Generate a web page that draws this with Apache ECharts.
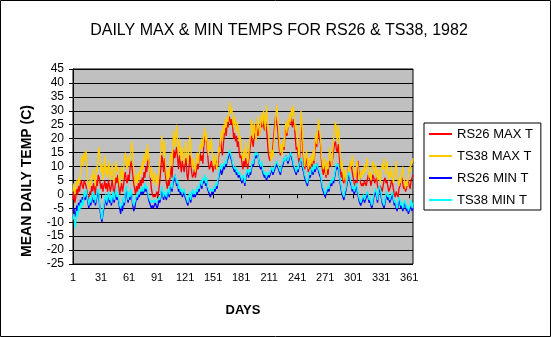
<!DOCTYPE html>
<html><head><meta charset="utf-8">
<script src="https://cdn.jsdelivr.net/npm/echarts@6/dist/echarts.min.js"></script>
<style>html,body{margin:0;padding:0;background:#fff}#c{width:551px;height:337px}</style>
</head><body><div id="c"></div>
<script>
const days = Array.from({length:365},(_,i)=>String(i+1));
const seriesNames = ['RS26 MAX T','TS38 MAX T','RS26 MIN T','TS38 MIN T'];
const rs26Max = [
-2,1,-3,-1,2,0,3,1,4,5, 3,2,5,4,3,1,-1,-2,1,0, 3,1,4,2,0,5,3,7,6,4, 2,4,1,3,5,2,4,1,5,3,
1,3,5,2,0,3,6,4,7,3, 0,2,4,1,3,6,8,5,4,7, 5,9,12,10,7,4,2,0,3,1, 4,2,5,3,6,4,8,6,10,8,
12,13,9,5,2,0,-1,0,-1,0, 1,-1,2,5,9,14,12,8,13,7, 4,2,5,3,7,10,6,12,16,13, 15,17,13,9,14,11,8,12,10,8,
11,13,7,5,9,14,12,8,6,7, 9,6,8,11,9,13,15,12,14,11, 17,21,19,20,15,11,9,10,12,10, 8,10,11,9,12,10,14,17,20,16,
14,18,22,24,21,26,24,28,27,25, 27,24,20,22,19,21,17,19,15,13, 14,11,9,12,10,13,11,9,12,15, 18,21,19,17,22,20,25,23,21,24,
22,26,24,27,25,23,26,24,20,15, 13,12,15,14,17,21,25,28,26,24, 20,16,14,17,15,18,16,22,25,21, 24,27,25,28,26,24,27,25,20,16,
17,14,11,15,26,22,17,12,9,11, 13,10,8,11,9,12,10,13,11,16, 19,17,21,23,20,18,12,9,7,10, 8,6,9,7,11,12,10,11,13,16,
18,19,16,15,18,14,10,6,8,5, 4,7,5,3,6,10,9,11,10,8, 6,4,3,5,4,12,8,6,4,3, 4,3,5,4,3,5,7,6,5,3,
5,7,6,4,5,6,3,2,1,3, 2,1,3,5,6,4,5,3,1,2, 3,5,4,2,0,-1,1,0,-1,2, 3,5,6,4,2,3,1,2,4,5, 3,2,5,6,7];
const ts38Max = [
1,4,0,2,5,3,6,4,8,12, 14,10,15,12,16,9,4,2,5,3, 7,5,9,6,3,10,8,15,17,12, 8,11,5,9,14,7,10,6,12,9,
5,8,11,7,4,9,12,8,10,6, 3,7,10,5,8,13,15,11,9,14, 10,12,16,19,15,9,6,3,7,4, 8,5,10,7,12,9,14,11,16,12,
18,13,9,6,10,7,4,8,5,3, 7,4,9,12,16,21,18,14,19,11, 7,5,9,6,12,15,10,19,23,17, 21,25,18,14,20,16,12,17,14,11,
16,19,14,11,17,21,18,12,9,13, 10,8,12,15,11,14,18,16,20,17, 21,24,19,22,17,14,19,16,20,15, 12,10,14,11,9,13,17,15,20,23,
19,25,22,27,24,28,26,30,33,29, 31,27,24,28,25,22,26,23,19,21, 17,14,12,16,13,19,15,11,14,18, 22,27,24,20,26,23,19,25,28,24,
21,26,29,25,30,27,23,32,28,24, 19,15,12,16,13,18,22,27,32,29, 24,19,15,18,14,20,17,23,26,22, 27,24,29,26,31,28,32,27,23,25,
21,17,13,18,30,26,20,14,10,13, 16,12,9,13,10,14,11,16,12,19, 22,18,24,27,23,20,14,11,9,13, 10,7,12,9,14,17,13,10,15,20,
24,26,22,19,25,21,15,9,12,8, 5,9,6,3,7,10,8,12,10,14, 11,8,6,9,12,10,7,5,8,6, 9,7,11,8,10,13,9,6,8,5,
9,12,10,7,11,8,5,9,6,4, 8,11,9,13,10,7,12,9,5,8, 6,10,7,4,6,9,12,8,5,3, 6,4,8,10,7,4,2,5,3,7, 10,8,12,11,13];
const rs26Min = [
-6,-5,-8,-7,-4,-6,-3,-5,-2,-4, -1,-3,0,-2,1,-1,-3,-5,-2,-4, -2,0,-3,-1,-4,-2,0,1,-2,-6, -8,-10,-7,-5,-3,-1,-4,-2,0,-3,
-1,-4,-2,0,-3,-1,1,-2,0,-3, -5,-7,-4,-6,-2,-4,0,2,-1,-3, 0,-2,1,-1,-4,-6,-5,-3,-1,-2, 0,-1,1,0,2,0,1,3,1,2,
0,-2,-3,-4,-5,-4,-5,-4,-3,-4, -5,-4,-2,-3,-1,2,0,-2,0,-1, -2,0,1,-1,2,3,1,4,5,7, 5,3,4,1,2,0,1,-1,0,1,
-1,-2,-3,-4,-2,0,-3,-1,1,-1, 0,-1,1,0,2,1,3,4,2,5, 4,6,3,5,2,1,0,-1,0,1, 0,2,1,3,2,4,6,8,9,7,
8,10,9,11,10,12,13,14,15,13, 12,10,9,8,9,7,8,6,7,6, 5,4,6,5,3,6,7,8,6,8, 7,9,11,10,12,14,13,15,14,12,
10,9,11,8,7,6,7,5,6,7, 6,7,8,9,7,8,9,10,11,10, 9,8,7,9,10,11,13,12,14,13, 11,12,14,15,13,12,10,9,8,7,
9,8,10,12,13,11,9,8,6,5, 4,3,5,7,6,8,9,7,10,8, 9,11,10,8,7,6,4,2,1,0, -1,0,1,2,1,3,4,3,5,4,
6,8,10,9,11,7,4,2,0,-1, -2,0,1,3,5,7,6,4,3,1, 2,0,1,3,2,0,-2,-3,-4,-3, -2,-1,-3,-2,-1,0,-1,-3,-2,-4,
-5,-3,-1,0,1,-1,-3,0,2,1, -1,-3,-4,-5,-3,-1,0,-2,-1,-3, -2,-1,0,-2,-4,-3,-5,-6,-4,-2, -3,-5,-4,-6,-5,-3,-4,-6,-5,-7, -6,-5,-4,-6,-5];
const ts38Min = [
-9,-7,-12,-10,-6,-8,-4,-6,-3,-5, -2,-4,1,-1,2,0,-2,-4,-1,-3, -1,1,-2,0,-3,-1,1,2,-1,-5, -7,-9,-6,-4,-2,0,-3,-1,1,-2,
0,-3,-1,1,-2,0,2,-1,1,-2, -4,-5,-3,-4,-1,-3,1,3,0,-2, 1,-1,2,0,-3,-4,-3,-2,0,-1, 1,0,2,1,3,1,2,4,2,3,
1,-1,-2,-2,-3,-2,-3,-2,-2,-3, -3,-2,-1,-2,0,3,1,-1,1,0, -1,1,2,0,3,4,2,5,6,7, 6,4,5,2,3,1,2,0,1,2,
0,-1,-2,-3,-1,1,-2,0,2,0, 1,0,2,1,3,2,4,5,3,6, 5,7,4,6,3,2,1,1,2,2, 1,3,2,4,3,5,7,9,11,9,
10,11,10,12,11,13,14,15,16,14, 13,11,10,9,10,8,9,7,8,7, 6,5,7,6,4,7,8,9,7,9, 8,10,12,11,13,15,14,15,14,12,
11,10,12,9,8,7,8,6,7,8, 7,8,9,10,8,9,10,11,12,11, 10,9,8,10,11,12,13,12,14,13, 12,13,14,15,14,13,11,10,9,8,
10,9,11,12,13,12,10,9,7,6, 5,4,6,8,7,9,10,8,11,9, 10,11,10,9,8,7,5,3,2,1, 0,1,2,3,2,4,5,4,6,5,
7,9,11,10,11,8,5,3,1,0, -1,1,2,4,6,8,7,5,4,2, 3,1,2,4,3,1,-1,-2,-3,-2, -1,0,-2,-1,0,1,0,-2,-1,-3,
-4,-2,0,1,2,0,-2,1,3,2, 0,-2,-3,-4,-2,0,1,-1,0,-2, -1,0,1,-1,-3,-2,-4,-5,-3,-1, -2,-4,-3,-5,-4,-2,-3,-5,-4,-6, -5,-4,-2,-5,-3];
const colors = ['#ff0000','#ffcc00','#0000ff','#00ffff'];
const allData = [rs26Max, ts38Max, rs26Min, ts38Min];

const chart = echarts.init(document.getElementById('c'), null, {renderer:'canvas'});
chart.setOption({
  animation:false,
  backgroundColor:'#ffffff',
  textStyle:{fontFamily:'Liberation Sans, Arial, sans-serif', color:'#000'},
  title:{text:'DAILY MAX & MIN TEMPS FOR RS26 & TS38, 1982', left:274, textAlign:'center', top:18,
    textStyle:{fontSize:16, fontWeight:'normal', color:'#000', fontFamily:'Liberation Sans, Arial, sans-serif'}},
  grid:{left:73, top:69, right:138, bottom:73, show:true, backgroundColor:'#c0c0c0', borderColor:'#000', borderWidth:1, containLabel:false},
  legend:{orient:'vertical', left:424, top:123, width:120, padding:[4,8,3,5], itemGap:8,
    borderColor:'#000', borderWidth:1, backgroundColor:'#fff', icon:'rect', itemWidth:23, itemHeight:2,
    textStyle:{fontSize:13, lineHeight:14, color:'#000', fontFamily:'Liberation Sans, Arial, sans-serif'},
    data:seriesNames},
  xAxis:{type:'category', data:days, boundaryGap:false,
    axisLine:{lineStyle:{color:'#000'}},
    axisTick:{interval:29, length:4, lineStyle:{color:'#000'}},
    axisLabel:{interval:29, fontSize:11, color:'#000', margin:8},
    splitLine:{show:false}},
  yAxis:{type:'value', min:-25, max:45, interval:5,
    axisLine:{show:true, lineStyle:{color:'#000'}},
    axisTick:{show:true, length:4, lineStyle:{color:'#000'}},
    axisLabel:{fontSize:12, color:'#000', margin:9},
    splitLine:{show:true, lineStyle:{color:'#000', width:1}}},
  series: seriesNames.map((n,i)=>({name:n, type:'line', data:allData[i], showSymbol:false, symbol:'none',
    lineStyle:{width:1.3, color:colors[i]}, itemStyle:{color:colors[i]}})),
  graphic:[
    {type:'rect', shape:{x:0.5,y:0.5,width:550,height:336}, style:{fill:'none', stroke:'#000', lineWidth:1}, silent:true},
    {type:'text', x:27, y:181, rotation:Math.PI/2, style:{text:'MEAN DAILY TEMP (C)', font:'bold 14px Liberation Sans, Arial, sans-serif', fill:'#000', textAlign:'center', textVerticalAlign:'middle'}},
    {type:'text', x:243, y:310, style:{text:'DAYS', font:'bold 13px Liberation Sans, Arial, sans-serif', fill:'#000', textAlign:'center', textVerticalAlign:'middle'}}
  ]
});
</script></body></html>
